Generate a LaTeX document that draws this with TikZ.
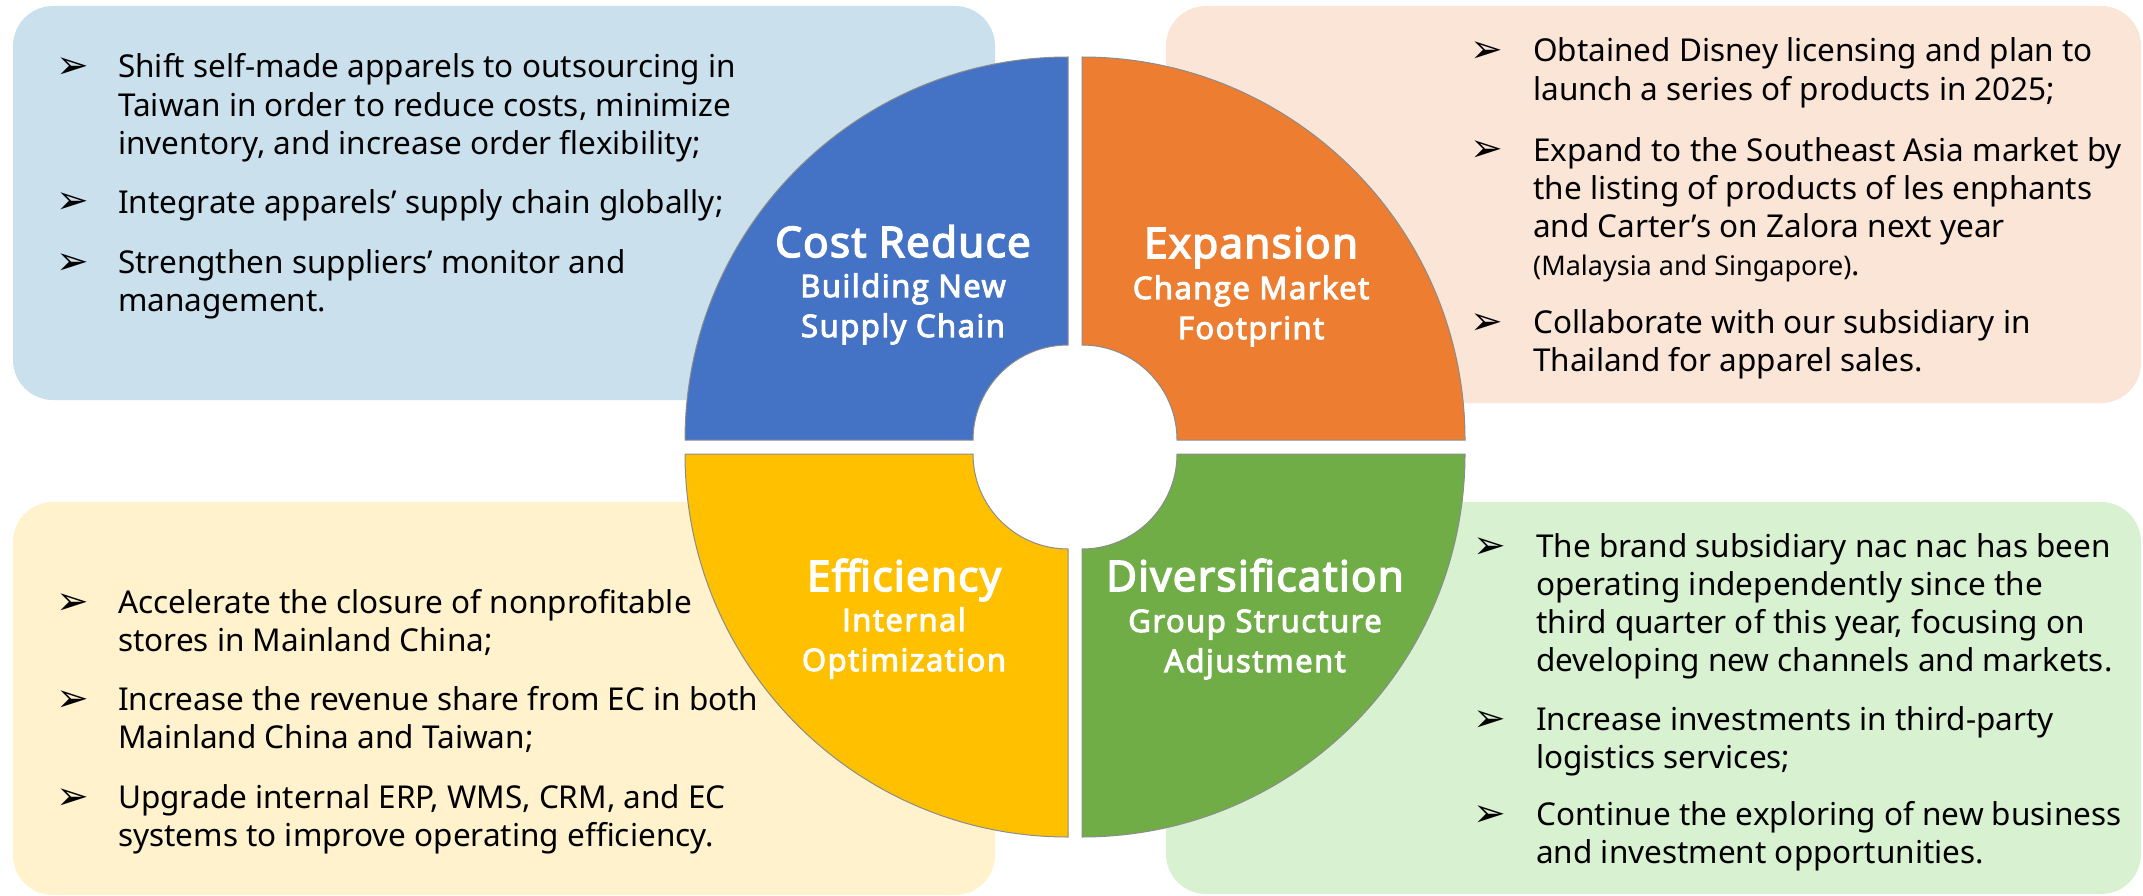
\documentclass[tikz,border=0pt]{standalone}
\usepackage{fontspec}
\setmainfont{Noto Sans}
\newfontfamily\labelfont{Open Sans}[FakeBold=4, LetterSpace=3.5]
\newfontfamily\labelsubfont{Open Sans}[FakeBold=3.5, LetterSpace=5]
\newfontfamily\bulletfont{DejaVu Sans}
\definecolor{qblue}{HTML}{4472C4}
\definecolor{qorange}{HTML}{ED7D31}
\definecolor{qyellow}{HTML}{FFC000}
\definecolor{qgreen}{HTML}{70AD47}
\definecolor{bxblue}{HTML}{CAE1ED}
\definecolor{bxorange}{HTML}{FBE5D6}
\definecolor{bxyellow}{HTML}{FFF2CC}
\definecolor{bxgreen}{HTML}{D8F1D1}
\definecolor{qedge}{HTML}{8C8C8C}
\begin{document}
\begin{tikzpicture}[x=1pt,y=1pt,
  infobox/.style={rounded corners=40pt},
  quad/.style={draw=qedge, line width=1pt},
  itemtext/.style={anchor=base west, align=left, inner sep=0pt, text=black, font=\fontsize{31.5}{38.2}\selectfont},
  bul/.style={anchor=base west, inner sep=0pt, text=black, font=\bulletfont\fontsize{39}{42}\selectfont},
  qtitle/.style={anchor=base, inner sep=0pt, text=white, font=\labelfont\fontsize{42}{48}\selectfont},
  qsub/.style={anchor=base, inner sep=0pt, align=center, text=white, font=\labelsubfont\fontsize{31}{40}\selectfont},
]
\useasboundingbox (0,0) rectangle (2143,-896);

% background boxes
\fill[bxblue, infobox] (13,-6) rectangle (995,-400);
\fill[bxorange, infobox] (1166,-6) rectangle (2141,-403);
\fill[bxyellow, infobox] (13,-502) rectangle (995,-895);
\fill[bxgreen, infobox] (1166,-502) rectangle (2141,-894);

% quadrants
\filldraw[quad, fill=qblue] (685,-440) arc[start angle=180, end angle=90, radius=383] -- (1068,-345) arc[start angle=90, end angle=180, radius=95] -- cycle;
\filldraw[quad, fill=qorange] (1082,-57) arc[start angle=90, end angle=0, radius=383] -- (1177,-440) arc[start angle=0, end angle=90, radius=95] -- cycle;
\filldraw[quad, fill=qyellow] (685,-454) arc[start angle=180, end angle=270, radius=383] -- (1068,-549) arc[start angle=270, end angle=180, radius=95] -- cycle;
\filldraw[quad, fill=qgreen] (1465,-454) arc[start angle=0, end angle=-90, radius=383] -- (1082,-549) arc[start angle=-90, end angle=0, radius=95] -- cycle;

% quadrant labels (multi-line nodes are placed at their last baseline)
\node[qtitle] (costT) at (903,-257) {Cost Reduce};
\node[qsub] (costS) at (903,-337) {Building New\\Supply Chain};
\node[qtitle] (expT) at (1251,-258) {Expansion};
\node[qsub] (expS) at (1251,-339) {Change Market\\Footprint};
\node[qtitle] (effT) at (904,-591) {Efficiency};
\node[qsub] (effS) at (904,-671) {Internal\\Optimization};
\node[qtitle] (divT) at (1255,-591) {Diversification};
\node[qsub] (divS) at (1255,-672) {Group Structure\\Adjustment};

% top-left items
\node[bul] (b11) at (56,-79) {➢};
\node[itemtext] (t11) at (118,-154.4) {Shift self-made apparels to outsourcing in\\Taiwan in order to reduce costs, minimize\\inventory, and increase order flexibility;};
\node[bul] (b12) at (56,-214) {➢};
\node[itemtext] (t12) at (118,-213) {Integrate apparels’ supply chain globally;};
\node[bul] (b13) at (56,-274) {➢};
\node[itemtext] (t13) at (118,-311.2) {Strengthen suppliers’ monitor and\\management.};

% top-right items
\node[bul] (b21) at (1470,-63) {➢};
\node[itemtext] (t21) at (1533,-100.2) {Obtained Disney licensing and plan to\\launch a series of products in 2025;};
\node[bul] (b22) at (1470,-162) {➢};
\node[itemtext] (t22) at (1533,-275.6) {Expand to the Southeast Asia market by\\the listing of products of les enphants\\and Carter’s on Zalora next year\\{\fontsize{27}{38.2}\selectfont (Malaysia and Singapore)}.};
\node[bul] (b23) at (1470,-334) {➢};
\node[itemtext] (t23) at (1533,-371.2) {Collaborate with our subsidiary in\\Thailand for apparel sales.};

% bottom-left items
\node[bul] (b31) at (56,-614) {➢};
\node[itemtext] (t31) at (118,-651.2) {Accelerate the closure of nonprofitable\\stores in Mainland China;};
\node[bul] (b32) at (56,-711) {➢};
\node[itemtext] (t32) at (118,-748.2) {Increase the revenue share from EC in both\\Mainland China and Taiwan;};
\node[bul] (b33) at (56,-809) {➢};
\node[itemtext] (t33) at (118,-846.2) {Upgrade internal ERP, WMS, CRM, and EC\\systems to improve operating efficiency.};

% bottom-right items
\node[bul] (b41) at (1473,-558) {➢};
\node[itemtext] (t41) at (1536,-671.6) {The brand subsidiary nac nac has been\\operating independently since the\\third quarter of this year, focusing on\\developing new channels and markets.};
\node[bul] (b42) at (1473,-731) {➢};
\node[itemtext] (t42) at (1536,-768.2) {Increase investments in third-party\\logistics services;};
\node[bul] (b43) at (1473,-826) {➢};
\node[itemtext] (t43) at (1536,-863.2) {Continue the exploring of new business\\and investment opportunities.};
\end{tikzpicture}
\end{document}
